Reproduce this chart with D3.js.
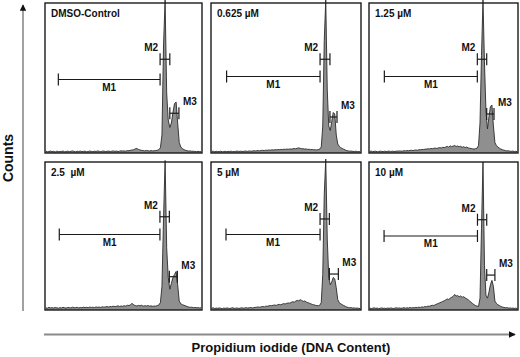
<!DOCTYPE html>
<html>
<head>
<meta charset="utf-8">
<script src="https://cdn.jsdelivr.net/npm/d3@7"></script>
<style>
  body { margin: 0; background: #fff; }
  svg { display: block; font-family: "Liberation Sans", Arial, sans-serif; }
</style>
</head>
<body>
<div id="chart"></div>
<script>
// panel titles, in reading order
const titles = ["DMSO-Control", "0.625 µM", "1.25 µM", "2.5  µM", "5 µM", "10 µM"]

// DNA histograms: 100 bins across the PI channel range, counts in % of full scale
const dmsoCounts = [
  1.2, 0.8, 1.0, 1.3, 0.9, 1.1, 0.7, 1.2, 1.0, 0.9,
  1.1, 1.3, 0.8, 1.0, 1.2, 0.9, 1.1, 1.4, 1.0, 0.8,
  1.2, 1.0, 1.3, 0.9, 1.1, 1.2, 0.8, 1.0, 1.3, 1.1,
  0.9, 1.2, 1.0, 1.4, 1.1, 0.9, 1.2, 1.3, 1.0, 1.1,
  1.3, 1.0, 1.2, 1.4, 1.1, 1.3, 1.0, 1.2, 1.5, 1.3,
  1.4, 1.2, 1.6, 1.5, 1.8, 2.0, 2.2, 2.8, 3.0, 2.4,
  2.0, 1.8, 1.6, 1.4, 1.7, 1.5, 1.3, 1.6, 1.4, 1.5,
  1.6, 1.8, 2.2, 3.5, 12, 72, 102, 40, 22, 17,
  20, 27, 33, 34, 20, 7, 4, 3, 2.2, 1.8,
  1.5, 1.3, 1.4, 1.1, 1.2, 1.0, 0.9, 1.1, 1.0, 0.8
]
const counts0625 = [
  1.0, 1.2, 0.8, 1.1, 0.9, 1.0, 1.2, 0.8, 1.0, 1.1,
  0.9, 1.1, 1.0, 1.2, 0.9, 1.0, 1.1, 1.3, 1.0, 1.2,
  1.1, 1.0, 1.3, 1.2, 1.1, 1.4, 1.2, 1.3, 1.5, 1.4,
  1.5, 1.6, 1.4, 1.7, 1.8, 1.6, 1.9, 1.8, 2.0, 1.9,
  2.1, 2.0, 2.2, 2.1, 2.3, 2.2, 2.4, 2.3, 2.5, 2.4,
  2.6, 2.5, 2.7, 2.6, 2.8, 3.0, 2.8, 3.2, 3.4, 3.1,
  2.8, 2.9, 2.6, 2.7, 2.4, 2.5, 2.2, 2.4, 2.1, 2.2,
  2.0, 2.3, 2.6, 4, 18, 75, 102, 42, 18, 15,
  21, 27, 26, 12, 6, 4.5, 3.5, 3, 2.5, 2,
  1.6, 1.4, 1.2, 1.3, 1.1, 1.0, 1.2, 0.9, 1.0, 0.8
]
const counts125 = [
  1.0, 1.3, 0.9, 1.1, 1.2, 0.8, 1.0, 1.2, 1.1, 0.9,
  1.2, 1.0, 1.1, 1.3, 0.9, 1.2, 1.1, 1.0, 1.3, 1.2,
  1.4, 1.2, 1.3, 1.5, 1.4, 1.6, 1.5, 1.7, 1.8, 1.6,
  1.9, 2.0, 1.8, 2.2, 2.1, 2.4, 2.3, 2.5, 2.6, 2.8,
  2.7, 3.0, 2.9, 3.1, 3.3, 3.0, 3.4, 3.6, 3.3, 3.8,
  3.6, 4.0, 4.4, 3.9, 4.8, 4.2, 4.6, 5.0, 4.3, 4.7,
  4.1, 4.5, 3.8, 4.2, 3.6, 4.0, 3.4, 3.2, 3.0, 2.8,
  2.6, 2.9, 3.2, 5, 20, 65, 102, 60, 28, 16,
  24, 31, 32, 18, 7, 5, 4, 3.2, 2.6, 2.2,
  1.9, 1.6, 1.4, 1.5, 1.2, 1.1, 1.3, 1.0, 1.1, 0.9
]
const counts25 = [
  1.5, 1.2, 1.8, 1.4, 1.6, 1.3, 1.7, 1.5, 1.2, 1.6,
  1.4, 1.8, 1.5, 1.3, 1.7, 1.6, 1.4, 1.9, 1.5, 1.6,
  1.8, 1.4, 1.7, 1.5, 1.9, 1.6, 1.8, 1.5, 2.0, 1.7,
  1.9, 1.6, 2.1, 1.8, 2.0, 1.7, 2.2, 1.9, 2.1, 2.3,
  2.0, 2.4, 2.2, 2.6, 2.3, 2.5, 2.8, 2.4, 2.7, 2.5,
  2.9, 2.6, 3.2, 3.0, 3.6, 4.5, 3.4, 3.0, 2.7, 3.1,
  2.8, 3.2, 2.6, 2.9, 2.7, 3.0, 2.6, 2.8, 2.5, 2.7,
  2.6, 3.0, 3.4, 5, 16, 62, 101, 42, 22, 14,
  18, 22, 24, 26, 17, 6, 4.2, 3.6, 3.2, 2.8,
  2.4, 2.0, 1.8, 1.9, 1.6, 1.7, 1.5, 1.6, 1.4, 1.5
]
const counts5 = [
  1.2, 1.5, 1.0, 1.3, 1.1, 1.4, 1.2, 0.9, 1.3, 1.1,
  1.4, 1.2, 1.0, 1.3, 1.5, 1.1, 1.2, 1.4, 1.0, 1.3,
  1.5, 1.2, 1.4, 1.6, 1.3, 1.5, 1.7, 1.4, 1.6, 1.8,
  1.9, 2.1, 1.8, 2.2, 2.4, 2.1, 2.6, 2.5, 2.8, 3.0,
  2.9, 3.2, 3.4, 3.1, 3.6, 3.8, 3.5, 4.0, 4.3, 4.1,
  4.5, 4.8, 4.6, 5.2, 5.6, 5.3, 6.0, 6.5, 6.2, 7.0,
  6.4, 5.8, 6.1, 5.4, 5.0, 4.6, 4.2, 3.8, 3.5, 3.2,
  3.0, 2.8, 3.2, 5, 24, 78, 102, 48, 22, 17,
  19, 22, 21, 15, 7, 5, 4.2, 3.6, 3.0, 2.5,
  2.0, 1.7, 1.5, 1.6, 1.3, 1.4, 1.2, 1.3, 1.1, 1.0
]
const counts10 = [
  1.3, 1.0, 1.2, 1.5, 1.1, 1.3, 0.9, 1.2, 1.4, 1.1,
  1.2, 1.0, 1.3, 1.1, 1.4, 1.2, 1.0, 1.3, 1.5, 1.2,
  1.4, 1.1, 1.3, 1.6, 1.2, 1.5, 1.3, 1.7, 1.4, 1.6,
  1.5, 1.8, 1.6, 1.9, 1.7, 2.1, 1.9, 2.3, 2.2, 2.6,
  2.5, 2.9, 3.2, 3.0, 3.6, 4.0, 4.4, 4.9, 5.3, 5.8,
  6.2, 6.8, 7.5, 7.1, 8.0, 8.6, 9.2, 10.5, 9.4, 9.8,
  8.9, 9.5, 8.6, 9.0, 8.2, 7.6, 7.0, 6.1, 5.2, 4.4,
  3.6, 3.0, 2.6, 2.4, 8, 55, 100, 30, 10, 8,
  12, 17, 20, 16, 6, 4.5, 3.5, 3, 2.4, 2.0,
  1.8, 1.5, 1.6, 1.3, 1.4, 1.2, 1.3, 1.1, 1.2, 1.0
]
const histograms = [dmsoCounts, counts0625, counts125, counts25, counts5, counts10]

// marker gates per panel: [start, end, level] in channel % / count %
const gateM1 = [[8.5, 73.3, 49], [10.4, 72.7, 51], [10.3, 72.7, 51], [9.1, 73.2, 51], [10, 72.7, 51], [10.1, 72.8, 50]]
const gateM2 = [[73.3, 79.5, 62.5], [72.7, 79.3, 62.5], [72.7, 79, 62.5], [73.2, 79.2, 63], [72.7, 78.9, 61.5], [72.8, 79, 61]]
const gateM3 = [[79.5, 85.3, 26.5], [79.3, 84, 24], [79, 83.9, 26], [79.2, 84.3, 22.5], [78.9, 84.9, 24.3], [79, 84.5, 23.6]]

const xLabel = "Propidium iodide (DNA Content)"
const yLabel = "Counts"

const width = 520, height = 357
const colX = [45, 211, 369], colW = [157, 150, 149]
const rowY = [3, 162], rowH = [150, 148]

const svg = d3.select("#chart").append("svg")
  .attr("width", width)
  .attr("height", height)

const defs = svg.append("defs")
defs.append("marker")
    .attr("id", "arrow")
    .attr("viewBox", "0 0 10 10")
    .attr("refX", 9).attr("refY", 5)
    .attr("markerWidth", 4).attr("markerHeight", 4)
    .attr("orient", "auto")
  .append("path")
    .attr("d", "M0,0L10,5L0,10z")
    .attr("fill", "#111")

// outer axes: just arrows
svg.append("line")
  .attr("x1", 23).attr("x2", 23)
  .attr("y1", 311).attr("y2", 5)
  .attr("stroke", "#8a8a8a")
  .attr("stroke-width", 1.6)
  .attr("marker-end", "url(#arrow)")

svg.append("line")
  .attr("x1", 44).attr("x2", 515)
  .attr("y1", 334.5).attr("y2", 334.5)
  .attr("stroke", "#8a8a8a")
  .attr("stroke-width", 1.8)
  .attr("marker-end", "url(#arrow)")

svg.append("text")
  .attr("transform", "translate(13,158) rotate(-90)")
  .attr("text-anchor", "middle")
  .attr("font-size", 14)
  .attr("font-weight", "bold")
  .attr("fill", "#111")
  .text(yLabel)

svg.append("text")
  .attr("x", 291).attr("y", 352)
  .attr("text-anchor", "middle")
  .attr("font-size", 13)
  .attr("font-weight", "bold")
  .attr("fill", "#111")
  .text(xLabel)

histograms.forEach((counts, i) => {
  const col = i % 3, row = Math.floor(i / 3)
  const x0 = colX[col], w = colW[col]
  const y0 = rowY[row], h = rowH[row]

  const x = d3.scaleLinear().domain([0, 100]).range([x0, x0 + w])
  const y = d3.scaleLinear().domain([0, 100]).range([y0 + h, y0])

  const g = svg.append("g")

  const area = d3.area()
    .x((d, j) => x(j + 0.5))
    .y0(y(0))
    .y1(d => y(d))

  const line = d3.line()
    .x((d, j) => x(j + 0.5))
    .y(d => y(d))

  g.append("path")
    .datum(counts)
    .attr("fill", "#8f8f8f")
    .attr("d", area)

  g.append("path")
    .datum(counts)
    .attr("fill", "none")
    .attr("stroke", "#2a2a2a")
    .attr("stroke-width", 0.9)
    .attr("d", line)

  g.append("rect")
    .attr("x", x0).attr("y", y0)
    .attr("width", w).attr("height", h)
    .attr("fill", "none")
    .attr("stroke", "#1a1a1a")
    .attr("stroke-width", 1.4)

  g.append("text")
    .attr("x", x0 + 6).attr("y", y0 + 14)
    .attr("font-size", 10)
    .attr("font-weight", "bold")
    .attr("fill", "#111")
    .style("white-space", "pre")
    .text(titles[i])

  const gates = [["M1", gateM1[i]], ["M2", gateM2[i]], ["M3", gateM3[i]]]
  gates.forEach(([name, [a, b, lvl]]) => {
    const gy = y(lvl)
    const mg = g.append("g")
      .attr("stroke", "#1a1a1a")
      .attr("stroke-width", 1.2)
    mg.append("line").attr("x1", x(a)).attr("x2", x(b)).attr("y1", gy).attr("y2", gy)
    mg.append("line").attr("x1", x(a)).attr("x2", x(a)).attr("y1", gy - 6).attr("y2", gy + 6)
    mg.append("line").attr("x1", x(b)).attr("x2", x(b)).attr("y1", gy - 6).attr("y2", gy + 6)

    const label = g.append("text")
      .attr("font-size", 10)
      .attr("font-weight", "bold")
      .attr("fill", "#111")
      .text(name)
    if (name === "M1") {
      label.attr("x", (x(a) + x(b)) / 2).attr("y", gy + 11).attr("text-anchor", "middle")
    } else if (name === "M2") {
      label.attr("x", x(a) - 2).attr("y", gy - 8).attr("text-anchor", "end")
    } else {
      label.attr("x", x(b) + 4).attr("y", gy - 8)
    }
  })
})
</script>
</body>
</html>
